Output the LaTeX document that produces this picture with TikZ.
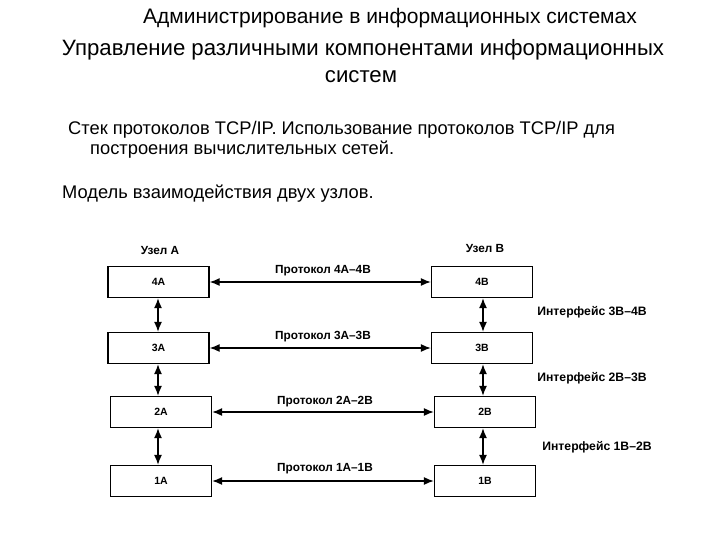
\documentclass[tikz,border=0pt]{standalone}
\usepackage{fontspec}
\setmainfont{Liberation Sans}
\usetikzlibrary{arrows.meta}
\begin{document}
\begin{tikzpicture}[x=1pt,y=-1pt,
  layer/.style={draw, line width=1.3pt, minimum width=101pt, minimum height=31pt, inner sep=0pt, font=\bfseries\fontsize{10.5}{13}\selectfont},
  link/.style={line width=1.3pt, {Latex[length=10pt,width=8pt]}-{Latex[length=10pt,width=8pt]}},
  lbl/.style={inner sep=0pt, font=\bfseries\fontsize{11.8}{14}\selectfont},
  ilbl/.style={inner sep=0pt, font=\bfseries\fontsize{12.2}{14}\selectfont},
  txt/.style={inner sep=0pt, anchor=west, font=\fontsize{18.3}{21}\selectfont}]
\useasboundingbox[fill=white] (0,0) rectangle (720,540);
% titles
\node[inner sep=0pt, font=\fontsize{21}{25}\selectfont] (t1) at (390,18) {Администрирование в информационных системах};
\node[inner sep=0pt, font=\fontsize{22.2}{26}\selectfont] (t2) at (363,50) {Управление различными компонентами информационных};
\node[inner sep=0pt, font=\fontsize{22.2}{26}\selectfont] (t3) at (361,77) {систем};
\node[txt] (s1) at (68,130) {Стек протоколов TCP/IP. Использование протоколов TCP/IP для};
\node[txt] (s2) at (90,150) {построения вычислительных сетей.};
\node[txt] (s3) at (62,194) {Модель взаимодействия двух узлов.};
% node labels
\node[lbl] (ua) at (160,250) {Узел A};
\node[lbl] (ub) at (485,248) {Узел B};
% boxes
\node[layer] (a4) at (158.5,282) {4A};
\node[layer] (a3) at (158.5,348) {3A};
\node[layer] (a2) at (161,412) {2A};
\node[layer] (a1) at (161,481) {1A};
\node[layer] (b4) at (482,282) {4B};
\node[layer] (b3) at (482,348) {3B};
\node[layer] (b2) at (485,412) {2B};
\node[layer] (b1) at (485,481) {1B};
% horizontal links
\draw[link] (a4) -- (b4);
\draw[link] (a3) -- (b3);
\draw[link] (a2) -- (b2);
\draw[link] (a1) -- (b1);
\node[lbl] (p4) at (323,271) {Протокол 4A–4B};
\node[lbl] (p3) at (323,337) {Протокол 3A–3B};
\node[lbl] (p2) at (325,402) {Протокол 2A–2B};
\node[lbl] (p1) at (325,469) {Протокол 1A–1B};
% vertical links
\draw[link] (a4.south -| 158,0) -- (a3.north -| 158,0);
\draw[link] (a3.south -| 158,0) -- (a2.north -| 158,0);
\draw[link] (a2.south -| 158,0) -- (a1.north -| 158,0);
\draw[link] (b4.south -| 483,0) -- (b3.north -| 483,0);
\draw[link] (b3.south -| 483,0) -- (b2.north -| 483,0);
\draw[link] (b2.south -| 483,0) -- (b1.north -| 483,0);
\node[ilbl] (i3) at (592,312) {Интерфейс 3B–4B};
\node[ilbl] (i2) at (592,378) {Интерфейс 2B–3B};
\node[ilbl] (i1) at (597,447) {Интерфейс 1B–2B};
\end{tikzpicture}
\end{document}
